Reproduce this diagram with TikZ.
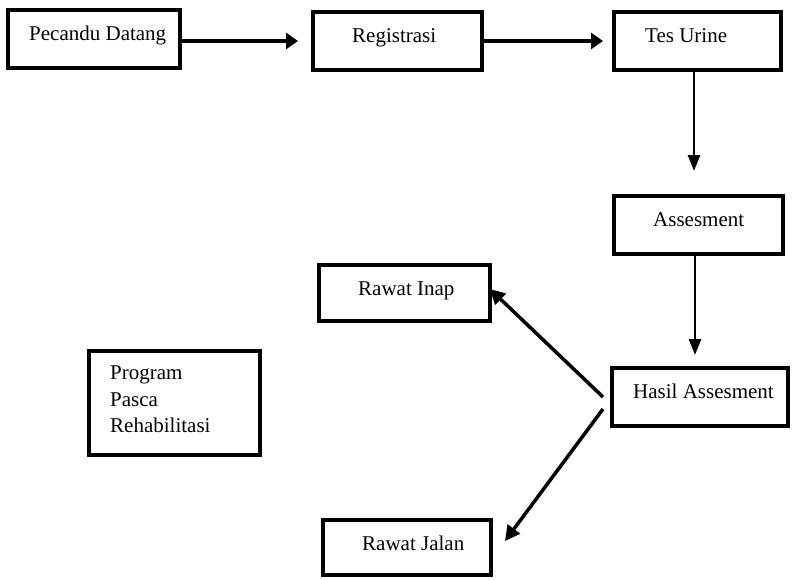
\documentclass[tikz,border=0pt]{standalone}
\usepackage{fontspec}
\setmainfont{Liberation Serif}
\usetikzlibrary{arrows.meta}
\begin{document}
\begin{tikzpicture}[x=1pt,y=-1pt,
  box/.style={draw=black, line width=4pt, inner sep=0pt, rectangle},
  txt/.style={anchor=base west, inner sep=0pt, font=\fontsize{21}{26.5}\selectfont},
  harr/.style={line width=3.8pt, -{Triangle[length=12pt,width=16pt]}},
  varr/.style={line width=2.7pt, -{Triangle[length=16pt,width=12pt]}},
  darr/.style={line width=3.5pt, -{Triangle[length=15pt,width=15pt]}}]
\useasboundingbox[fill=white] (0,0) rectangle (792,579);
% boxes
\node[box, minimum width=172pt, minimum height=58pt] (pd) at (94,39) {};
\node[box, minimum width=169pt, minimum height=58pt] (reg) at (397.5,41) {};
\node[box, minimum width=167pt, minimum height=58pt] (tes) at (697.5,41) {};
\node[box, minimum width=169pt, minimum height=58pt] (ass) at (698.5,225) {};
\node[box, minimum width=176pt, minimum height=58pt] (hasil) at (700,397) {};
\node[box, minimum width=171pt, minimum height=56pt] (inap) at (404.5,293) {};
\node[box, minimum width=171pt, minimum height=104pt] (prog) at (174.5,403) {};
\node[box, minimum width=168pt, minimum height=55pt] (jalan) at (407,547.5) {};
% texts
\node[txt] (pdt) at (29,40) {Pecandu Datang};
\node[txt] (regt) at (352,42) {Registrasi};
\node[txt] (test) at (645,42) {Tes Urine};
\node[txt] (asst) at (653,226) {Assesment};
\node[txt] (hast) at (633,398) {Hasil Assesment};
\node[txt] (inapt) at (358,295) {Rawat Inap};
\node[txt] (jalant) at (362,550) {Rawat Jalan};
\node[txt, anchor=north west, align=left] (progt) at (110,366) {Program\\Pasca\\Rehabilitasi};
% connectors
\draw[harr, shorten >=13pt] (pd.east |- reg.west) -- (reg.west);
\draw[harr, shorten >=9pt] (reg.east) -- (tes.west);
\draw[varr, shorten >=23pt] ([xshift=-3.5pt]tes.south) -- ([xshift=-4.5pt]ass.north);
\draw[varr, shorten >=11pt] ([xshift=-3.5pt]ass.south) -- ([xshift=-5pt]hasil.north);
\draw[darr, shorten >=-3pt] ([xshift=-7pt]hasil.west) -- ([yshift=2pt]inap.east);
\draw[darr] ([shift={(-7pt,-12pt)}]hasil.west) -- ([shift={(12pt,6.5pt)}]jalan.east);
\end{tikzpicture}
\end{document}
